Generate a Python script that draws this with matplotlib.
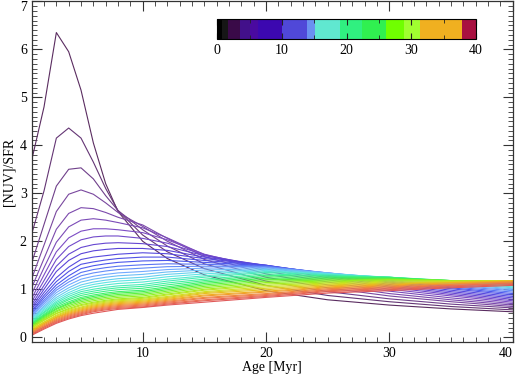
import matplotlib
matplotlib.use('Agg')
import matplotlib.pyplot as plt
import matplotlib as mpl
import numpy as np
from matplotlib.colors import LinearSegmentedColormap, ListedColormap, BoundaryNorm
from matplotlib.ticker import MultipleLocator

# ------------------------
# dados
ages = [1, 2, 3, 4, 5, 6, 7, 8, 10, 12, 15, 20, 25, 30, 35, 40]

nuv_sfr = [
    [3.69, 4.80, 6.35, 5.95, 5.15, 4.05, 3.20, 2.62, 2.00, 1.64, 1.30, 0.97, 0.78, 0.67, 0.59, 0.53],
    [2.15, 3.05, 4.15, 4.36, 4.15, 3.65, 3.10, 2.64, 2.13, 1.78, 1.43, 1.08, 0.87, 0.74, 0.64, 0.57],
    [1.55, 2.35, 3.15, 3.50, 3.53, 3.30, 2.95, 2.64, 2.24, 1.90, 1.53, 1.17, 0.95, 0.80, 0.69, 0.61],
    [1.22, 1.92, 2.62, 2.98, 3.07, 2.98, 2.80, 2.60, 2.31, 2.00, 1.62, 1.25, 1.03, 0.86, 0.74, 0.64],
    [1.03, 1.64, 2.25, 2.58, 2.70, 2.68, 2.60, 2.50, 2.34, 2.06, 1.68, 1.32, 1.09, 0.91, 0.78, 0.67],
    [0.90, 1.45, 1.98, 2.30, 2.44, 2.47, 2.44, 2.39, 2.28, 2.07, 1.72, 1.38, 1.15, 0.96, 0.82, 0.70],
    [0.81, 1.30, 1.78, 2.07, 2.21, 2.26, 2.26, 2.24, 2.18, 2.03, 1.73, 1.42, 1.20, 1.00, 0.86, 0.73],
    [0.74, 1.18, 1.62, 1.89, 2.03, 2.09, 2.11, 2.11, 2.06, 1.96, 1.72, 1.46, 1.24, 1.04, 0.89, 0.76],
    [0.68, 1.08, 1.48, 1.73, 1.87, 1.93, 1.96, 1.97, 1.95, 1.89, 1.70, 1.49, 1.27, 1.07, 0.92, 0.79],
    [0.63, 1.00, 1.37, 1.60, 1.74, 1.80, 1.83, 1.85, 1.85, 1.81, 1.67, 1.50, 1.29, 1.10, 0.95, 0.82],
    [0.59, 0.93, 1.24, 1.46, 1.62, 1.67, 1.70, 1.73, 1.76, 1.74, 1.64, 1.50, 1.31, 1.13, 0.98, 0.85],
    [0.55, 0.87, 1.16, 1.37, 1.52, 1.57, 1.61, 1.64, 1.67, 1.67, 1.60, 1.50, 1.32, 1.15, 1.01, 0.88],
    [0.52, 0.82, 1.09, 1.28, 1.43, 1.49, 1.53, 1.56, 1.59, 1.60, 1.56, 1.49, 1.33, 1.17, 1.03, 0.91],
    [0.49, 0.77, 1.03, 1.21, 1.35, 1.41, 1.45, 1.48, 1.51, 1.53, 1.52, 1.48, 1.34, 1.19, 1.05, 0.94],
    [0.46, 0.73, 0.98, 1.15, 1.28, 1.34, 1.38, 1.41, 1.44, 1.47, 1.48, 1.47, 1.34, 1.21, 1.07, 0.97],
    [0.44, 0.69, 0.93, 1.09, 1.21, 1.27, 1.31, 1.34, 1.37, 1.41, 1.44, 1.45, 1.34, 1.22, 1.09, 0.99],
    [0.41, 0.65, 0.88, 1.03, 1.15, 1.21, 1.25, 1.28, 1.31, 1.36, 1.40, 1.43, 1.34, 1.23, 1.11, 1.01],
    [0.39, 0.62, 0.83, 0.98, 1.09, 1.15, 1.19, 1.22, 1.25, 1.31, 1.36, 1.41, 1.33, 1.24, 1.13, 1.03],
    [0.37, 0.59, 0.79, 0.93, 1.04, 1.10, 1.14, 1.17, 1.20, 1.26, 1.32, 1.39, 1.32, 1.25, 1.14, 1.05],
    [0.35, 0.56, 0.75, 0.89, 0.99, 1.05, 1.09, 1.12, 1.15, 1.21, 1.28, 1.37, 1.31, 1.25, 1.15, 1.07],
    [0.33, 0.53, 0.72, 0.85, 0.95, 1.00, 1.04, 1.07, 1.10, 1.17, 1.25, 1.35, 1.30, 1.25, 1.16, 1.09],
    [0.31, 0.51, 0.69, 0.81, 0.91, 0.96, 1.00, 1.03, 1.06, 1.13, 1.21, 1.32, 1.28, 1.25, 1.17, 1.11],
    [0.29, 0.48, 0.66, 0.78, 0.87, 0.92, 0.96, 0.99, 1.02, 1.09, 1.18, 1.29, 1.27, 1.25, 1.18, 1.12],
    [0.28, 0.46, 0.63, 0.74, 0.83, 0.88, 0.92, 0.95, 0.98, 1.05, 1.15, 1.26, 1.25, 1.24, 1.18, 1.13],
    [0.26, 0.44, 0.60, 0.71, 0.80, 0.85, 0.89, 0.92, 0.95, 1.02, 1.12, 1.23, 1.23, 1.23, 1.18, 1.14],
    [0.25, 0.42, 0.58, 0.69, 0.77, 0.82, 0.86, 0.89, 0.92, 0.99, 1.09, 1.20, 1.21, 1.22, 1.18, 1.15],
    [0.23, 0.40, 0.55, 0.66, 0.74, 0.79, 0.83, 0.86, 0.89, 0.96, 1.06, 1.17, 1.19, 1.21, 1.18, 1.16],
    [0.22, 0.38, 0.53, 0.63, 0.71, 0.76, 0.80, 0.83, 0.86, 0.93, 1.03, 1.14, 1.17, 1.20, 1.18, 1.17],
    [0.20, 0.36, 0.50, 0.60, 0.68, 0.73, 0.77, 0.80, 0.83, 0.90, 1.00, 1.11, 1.15, 1.19, 1.18, 1.17],
    [0.19, 0.35, 0.49, 0.58, 0.66, 0.71, 0.75, 0.78, 0.81, 0.88, 0.98, 1.08, 1.13, 1.17, 1.17, 1.18],
    [0.17, 0.32, 0.46, 0.56, 0.63, 0.69, 0.73, 0.76, 0.79, 0.85, 0.95, 1.05, 1.11, 1.15, 1.16, 1.18],
    [0.16, 0.31, 0.44, 0.54, 0.61, 0.67, 0.71, 0.74, 0.77, 0.83, 0.93, 1.02, 1.09, 1.13, 1.15, 1.18],
    [0.14, 0.29, 0.42, 0.52, 0.59, 0.65, 0.69, 0.72, 0.75, 0.81, 0.91, 0.99, 1.07, 1.11, 1.14, 1.17],
    [0.13, 0.28, 0.41, 0.50, 0.57, 0.63, 0.67, 0.70, 0.73, 0.79, 0.88, 0.96, 1.05, 1.09, 1.13, 1.17],
    [0.11, 0.26, 0.39, 0.48, 0.55, 0.61, 0.65, 0.68, 0.71, 0.77, 0.86, 0.94, 1.03, 1.07, 1.11, 1.16],
    [0.10, 0.24, 0.37, 0.46, 0.53, 0.59, 0.63, 0.66, 0.69, 0.75, 0.83, 0.91, 1.01, 1.05, 1.10, 1.15],
    [0.08, 0.22, 0.35, 0.44, 0.51, 0.57, 0.61, 0.64, 0.67, 0.73, 0.81, 0.89, 0.99, 1.03, 1.08, 1.13],
    [0.07, 0.21, 0.33, 0.42, 0.49, 0.55, 0.59, 0.62, 0.65, 0.71, 0.78, 0.87, 0.97, 1.01, 1.07, 1.12],
    [0.05, 0.19, 0.31, 0.40, 0.47, 0.53, 0.57, 0.60, 0.63, 0.69, 0.76, 0.85, 0.95, 0.99, 1.05, 1.10],
    [0.04, 0.17, 0.29, 0.38, 0.45, 0.50, 0.54, 0.58, 0.62, 0.67, 0.73, 0.83, 0.92, 0.97, 1.03, 1.08],
]

# barra de cores (blocos discretos)
cbar_edges = [0, 0.8, 1.7, 3.5, 5, 6.3, 10, 13.9, 15.1, 18.9, 22.3, 26.1, 28.9, 31.3, 37.8, 40]
cbar_colors = ['#000000', '#161616', '#3a0a48', '#42108a', '#4a0aa0', '#3c08b0', '#5048d8',
               '#6a90f0', '#60e8d0', '#30f080', '#30f050', '#70ff00', '#a0ff30', '#f0b020', '#a81040']
cbar_ticks = [0, 10, 20, 30, 40]
yticks = [0, 1, 2, 3, 4, 5, 6, 7]

plt.rcParams['font.family'] = ['Liberation Serif', 'DejaVu Serif']
plt.rcParams['font.size'] = 10

fig = plt.figure(figsize=(5.17, 3.77), dpi=100)
ax = fig.add_axes([0.0613, 0.0928, 0.9302, 0.9036])

# cores das linhas
line_cmap = LinearSegmentedColormap.from_list('linhas', [
    '#5a2c60', '#7a48a0', '#7c4cc4', '#5a44d8', '#4c58ec', '#72aaff',
    '#60e4e4', '#40f0a0', '#40f050', '#90f020', '#d0e020', '#f0b020',
    '#f07848', '#e05a5a'])

nc = len(nuv_sfr)
for i in range(nc):
    ax.plot(ages, nuv_sfr[i], color=line_cmap(i / (nc - 1)), lw=0.8)

ax.set_xlim(1, 40)
ax.set_ylim(-0.1, 7)
ax.xaxis.set_major_locator(MultipleLocator(10))
ax.xaxis.set_minor_locator(MultipleLocator(1))
ax.set_yticks(yticks)
ax.yaxis.set_minor_locator(MultipleLocator(0.1))
ax.tick_params(which='both', direction='in', top=True, right=True, colors='#333333')
ax.tick_params(which='major', length=7, width=0.8, labelcolor='black')
ax.tick_params(which='minor', length=3.5, width=0.6)
for s in ax.spines.values():
    s.set_color('#333333')
    s.set_linewidth(0.9)
ax.set_xlabel('Age [Myr]', labelpad=1)
ax.set_ylabel('[NUV]/SFR', labelpad=3)

# rotulos das pontas sem corte
fig.canvas.draw()
ax.yaxis.get_major_ticks()[-1].label1.set_va('top')
for t in ax.xaxis.get_major_ticks():
    if abs(t.get_loc() - 40) < 1e-6:
        t.label1.set_ha('right')

# ------------------------
# barra de cores
cax = fig.add_axes([0.4203, 0.8958, 0.5004, 0.0538])
cmap = ListedColormap(cbar_colors)
norm = BoundaryNorm(cbar_edges, cmap.N)
cb = mpl.colorbar.ColorbarBase(cax, cmap=cmap, norm=norm, orientation='horizontal',
                               spacing='proportional', ticks=cbar_ticks)
cb.outline.set_linewidth(0.8)
cax.set_xticks([5, 15, 25, 35], minor=True)
cax.tick_params(which='both', direction='in', top=True, bottom=True, colors='#222222')
cax.tick_params(which='major', length=4, labelcolor='black')
cax.tick_params(which='minor', length=3)
cax.set_xticklabels([str(t) for t in cbar_ticks])

fig.savefig('out.png', dpi=100)
